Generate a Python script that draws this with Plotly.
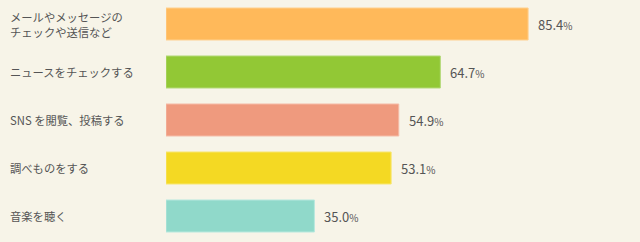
import plotly.graph_objects as go

categories = ["メールやメッセージの<br>チェックや送信など", "ニュースをチェックする", "SNS を閲覧、投稿する", "調べものをする", "音楽を聴く"]
values = [85.4, 64.7, 54.9, 53.1, 35.0]
colors = ["#ffb95a", "#92c835", "#ef9a7e", "#f4d923", "#90d9ca"]
line_colors = ["#ffd08f", "#b4d978", "#f5bca8", "#f8e670", "#b8e8de"]

W, H = 640, 242
x0, x1 = 166, 590
bg = "#f7f4e8"

fig = go.Figure()
fig.add_trace(go.Bar(
    y=list(range(len(categories))),
    x=values,
    orientation="h",
    marker=dict(color=colors, line=dict(color=line_colors, width=1)),
    width=0.667,
    hoverinfo="skip",
))

for i, (c, v) in enumerate(zip(categories, values)):
    fig.add_annotation(
        x=8 / W, xref="paper", xanchor="left",
        y=i, yref="y", yanchor="middle",
        text=c, showarrow=False, align="left",
        font=dict(family="Noto Sans CJK JP, sans-serif", size=11.3, color="#555555"),
    )
    fig.add_annotation(
        x=v, xref="x", xanchor="left", xshift=8,
        y=i, yref="y", yanchor="middle",
        text=f"{v:.1f}<span style='font-size:10px'>%</span>", showarrow=False,
        font=dict(family="Noto Sans CJK JP, Noto Sans, sans-serif", size=13, color="#555555"),
    )

fig.update_layout(
    width=W, height=H,
    margin=dict(l=0, r=0, t=0, b=2),
    paper_bgcolor=bg, plot_bgcolor=bg,
    showlegend=False,
    xaxis=dict(domain=[x0 / W, x1 / W], range=[0, 100], visible=False, fixedrange=True),
    yaxis=dict(range=[len(categories) - 0.5, -0.5], visible=False, fixedrange=True),
    bargap=0.333,
)

fig.write_html("out.html", config={"displayModeBar": False})
